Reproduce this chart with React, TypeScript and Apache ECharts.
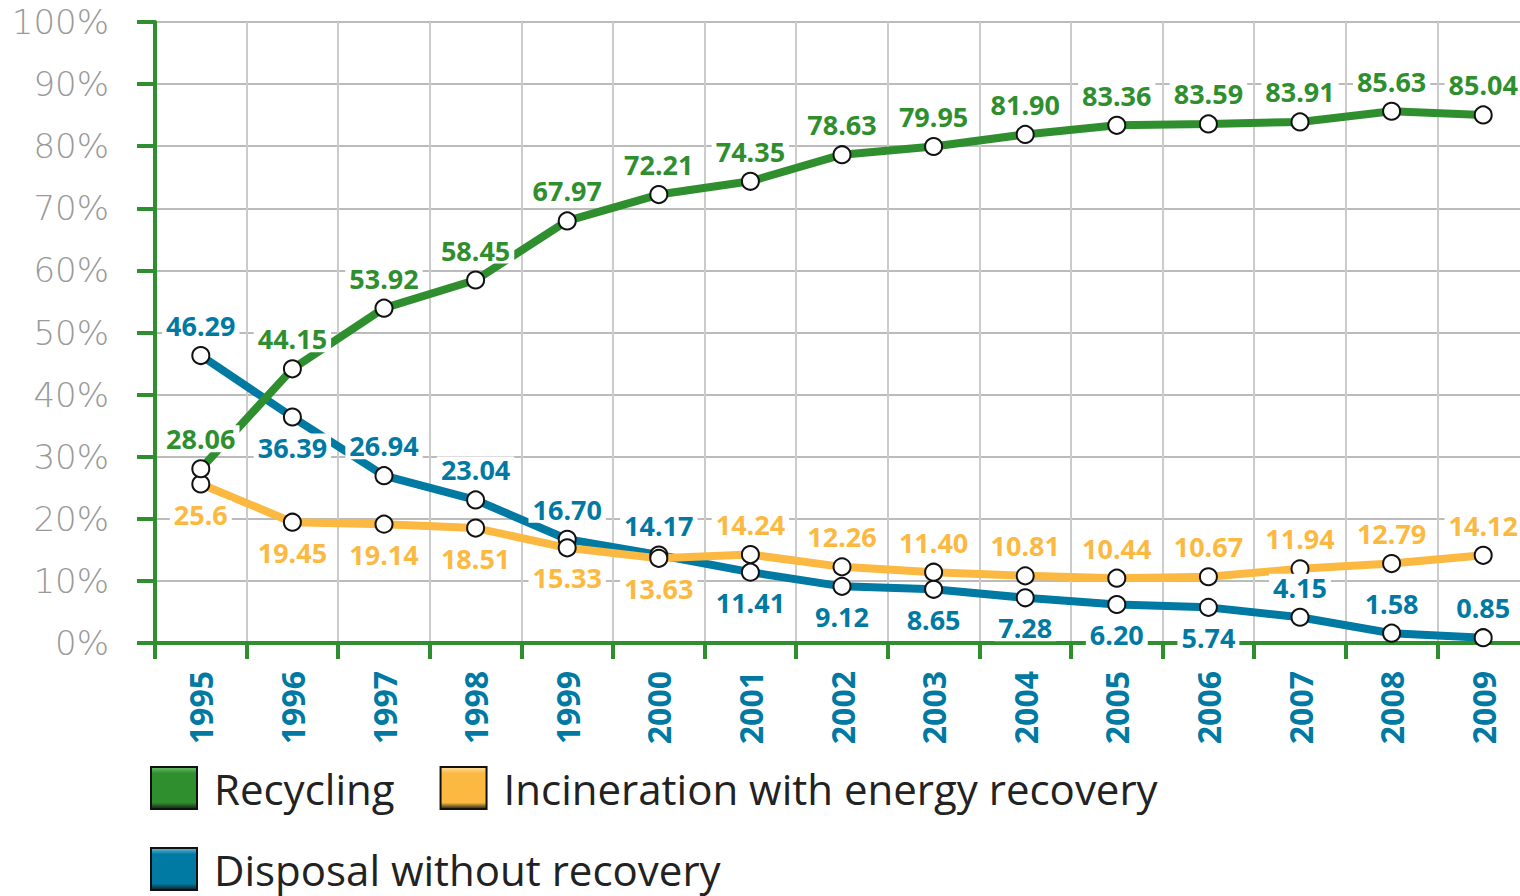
import React, { useEffect, useRef } from "react";
import * as echarts from "echarts";

const years = ["1995","1996","1997","1998","1999","2000","2001","2002","2003","2004","2005","2006","2007","2008","2009"];
const recycling = [28.06, 44.15, 53.92, 58.45, 67.97, 72.21, 74.35, 78.63, 79.95, 81.90, 83.36, 83.59, 83.91, 85.63, 85.04];
const incineration = [25.6, 19.45, 19.14, 18.51, 15.33, 13.63, 14.24, 12.26, 11.40, 10.81, 10.44, 10.67, 11.94, 12.79, 14.12];
const disposal = [46.29, 36.39, 26.94, 23.04, 16.70, 14.17, 11.41, 9.12, 8.65, 7.28, 6.20, 5.74, 4.15, 1.58, 0.85];
const recyclingLabels = ["28.06","44.15","53.92","58.45","67.97","72.21","74.35","78.63","79.95","81.90","83.36","83.59","83.91","85.63","85.04"];
const incinerationLabels = ["25.6","19.45","19.14","18.51","15.33","13.63","14.24","12.26","11.40","10.81","10.44","10.67","11.94","12.79","14.12"];
const disposalLabels = ["46.29","36.39","26.94","23.04","16.70","14.17","11.41","9.12","8.65","7.28","6.20","5.74","4.15","1.58","0.85"];
const yTicks = [0, 10, 20, 30, 40, 50, 60, 70, 80, 90, 100];

// label placement (top/bottom) per point
const recyclingPlace = Array(15).fill("top");
const incinerationPlace = ["bottom","bottom","bottom","bottom","bottom","bottom","top","top","top","top","top","top","top","top","top"];
const disposalPlace = ["top","bottom","top","top","top","top","bottom","bottom","bottom","bottom","bottom","bottom","top","top","top"];

const GREEN = "#2f8f2f";
const YELLOW = "#fbb941";
const BLUE = "#0079a3";

const NAMES = ["Recycling", "Incineration with energy recovery", "Disposal without recovery"];

function grad(c1: string, c2: string) {
  return new echarts.graphic.LinearGradient(0, 0, 0, 1, [
    { offset: 0, color: c1 },
    { offset: 0.15, color: c2 },
    { offset: 0.85, color: c2 },
    { offset: 1, color: "#1a1a1a" },
  ]);
}

export default function App() {
  const ref = useRef<HTMLDivElement>(null);
  useEffect(() => {
    document.body.style.margin = "0";
    document.body.style.overflow = "hidden";
    const chart = echarts.init(ref.current!, null, { renderer: "svg" });
    const mk = (name: string, vals: number[], labels: string[], place: string[], color: string) => ({
      name,
      type: "line",
      data: vals.map((v, i) => ({
        value: v,
        label: { position: place[i], formatter: labels[i] },
      })),
      lineStyle: { color, width: 8 },
      itemStyle: { color: "#fff", borderColor: "#111", borderWidth: 2 },
      color,
      symbol: "circle",
      symbolSize: 17,
      showAllSymbol: true,
      z: 3,
      label: {
        show: true,
        color,
        fontFamily: "Noto Sans",
        fontWeight: "bold",
        fontSize: 27,
        distance: 7,
        backgroundColor: "#fff",
        padding: [0, 4],
      },
    });
    const legendText = { fontFamily: "Open Sans", fontSize: 42, color: "#222", padding: [0, 0, 0, 12] };
    chart.setOption({
      animation: false,
      grid: { left: 155, top: 22, height: 621, width: 1374 },
      xAxis: {
        type: "category",
        data: years,
        boundaryGap: true,
        axisLine: { lineStyle: { color: GREEN, width: 4 } },
        axisTick: { show: true, length: 16, lineStyle: { color: GREEN, width: 4 } },
        splitLine: { show: true, lineStyle: { color: "#cccccc", width: 2 } },
        axisLabel: {
          rotate: 90,
          margin: 28,
          color: BLUE,
          fontFamily: "Noto Sans",
          fontWeight: "bold",
          fontSize: 32,
          interval: 0,
        },
      },
      yAxis: {
        type: "value",
        min: yTicks[0],
        max: yTicks[yTicks.length - 1],
        interval: 10,
        axisLine: { show: true, lineStyle: { color: GREEN, width: 4 } },
        axisTick: { show: true, length: 18, lineStyle: { color: GREEN, width: 4 } },
        splitLine: { show: true, lineStyle: { color: "#bbbbbb", width: 2 } },
        axisLabel: {
          formatter: "{value}%",
          margin: 46,
          color: "#9a9a9a",
          fontFamily: "DejaVu Sans",
          fontWeight: 200,
          fontSize: 34,
        },
      },
      legend: [
        {
          data: [
            { name: NAMES[0], itemStyle: { color: grad("#6cbf6c", GREEN) } },
            { name: NAMES[1], itemStyle: { color: grad("#ffe0a0", YELLOW) } },
          ],
          left: 150,
          top: 766,
          padding: 0,
          itemWidth: 46,
          itemHeight: 42,
          itemGap: 45,
          icon: "rect",
          textStyle: legendText,
        },
        {
          data: [{ name: NAMES[2], itemStyle: { color: grad("#6fb8d8", BLUE) } }],
          left: 150,
          top: 847,
          padding: 0,
          itemWidth: 46,
          itemHeight: 42,
          icon: "rect",
          textStyle: legendText,
        },
      ],
      series: [
        mk(NAMES[2], disposal, disposalLabels, disposalPlace, BLUE),
        mk(NAMES[1], incineration, incinerationLabels, incinerationPlace, YELLOW),
        mk(NAMES[0], recycling, recyclingLabels, recyclingPlace, GREEN),
      ],
    });
    return () => chart.dispose();
  }, []);
  return <div ref={ref} style={{ width: 1530, height: 896 }} />;
}
